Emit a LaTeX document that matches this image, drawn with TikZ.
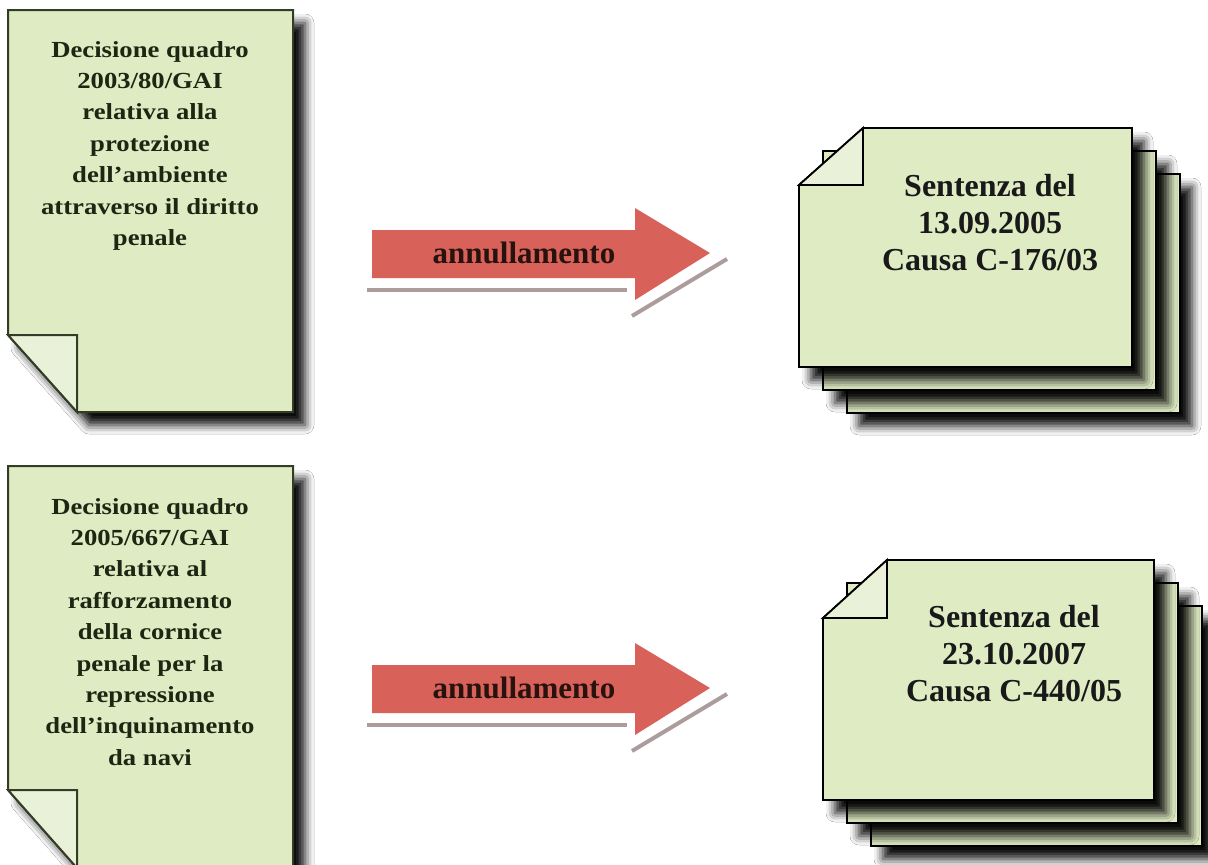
\documentclass[tikz,border=0pt]{standalone}
\usepackage{fontspec}
\setmainfont{Liberation Serif}
\newfontfamily\widefont[FakeStretch=1.16]{Liberation Serif}
\usetikzlibrary{shadows,shadows.blur}

\definecolor{pagegreen}{RGB}{222,235,195}
\definecolor{flapgreen}{RGB}{233,242,216}
\definecolor{oliveline}{RGB}{50,60,38}
\definecolor{oliveink}{RGB}{28,38,18}
\definecolor{arrowred}{RGB}{216,98,90}
\definecolor{arrowink}{RGB}{40,18,14}
\definecolor{shadowgrey}{RGB}{172,156,156}

\tikzset{
  pageshadow/.style={blur shadow={shadow xshift=12pt, shadow yshift=-13pt,
      shadow blur radius=9pt, shadow opacity=95}},
  leftdoc/.style={pageshadow, fill=pagegreen, draw=oliveline, line width=2pt, line join=miter},
  rightdoc/.style={pageshadow, fill=pagegreen, draw=black, line width=1.8pt, line join=miter},
  leftflap/.style={fill=flapgreen, draw=oliveline, line width=2pt, line join=miter},
  rightflap/.style={fill=flapgreen, draw=black, line width=1.8pt, line join=miter},
  lefttext/.style={font=\widefont\bfseries\fontsize{23}{31.4}\selectfont,
      text=oliveink, align=center, inner sep=0pt, anchor=north},
  righttext/.style={font=\bfseries\fontsize{32}{37}\selectfont,
      text=black!90, align=center, inner sep=0pt, anchor=north},
  arrowtext/.style={font=\bfseries\fontsize{31}{31}\selectfont,
      text=arrowink, inner sep=0pt, anchor=base},
  arrowshadow/.style={draw=shadowgrey, line width=4pt},
}

\begin{document}
\begin{tikzpicture}[x=1pt, y=-1pt]
  \useasboundingbox (0,0) rectangle (1208,865);
  \fill[white] (0,0) rectangle (1208,865);

  % left documents
  \path[leftdoc] (8,10) -- (293,10) -- (293,412) -- (77,412) -- (8,335) -- cycle;
  \path[leftflap] (8,335) -- (77,335) -- (77,412) -- cycle;
  \node[lefttext] (dec1) at (150,41) {Decisione quadro\\2003/80/GAI\\relativa alla\\protezione\\dell’ambiente\\attraverso il diritto\\penale};

  \path[leftdoc] (8,466) -- (293,466) -- (293,868) -- (77,868) -- (8,790) -- cycle;
  \path[leftflap] (8,790) -- (77,790) -- (77,868) -- cycle;
  \node[lefttext] (dec2) at (150,498) {Decisione quadro\\2005/667/GAI\\relativa al\\rafforzamento\\della cornice\\penale per la\\repressione\\dell’inquinamento\\da navi};

  % arrows
  \foreach \dy in {0,435} {
    \draw[arrowshadow] (367,290+\dy) -- (627,290+\dy);
    \draw[arrowshadow] (632,316+\dy) -- (727,259+\dy);
    \fill[arrowred] (372,230+\dy) -- (635,230+\dy) -- (635,208+\dy) -- (710,253+\dy)
      -- (635,300+\dy) -- (635,278+\dy) -- (372,278+\dy) -- cycle;
    \node[arrowtext] (ann\dy) at (524,263+\dy) {annullamento};
  }

  % right stacks
  \foreach \k in {2,1} {
    \path[rightdoc] (799+24*\k,128+23*\k) rectangle (1132+24*\k,367+23*\k);
  }
  \path[rightdoc] (863,128) -- (1132,128) -- (1132,367) -- (799,367) -- (799,185) -- cycle;
  \path[rightflap] (799,185) -- (863,128) -- (863,185) -- cycle;
  \node[righttext] (sent1) at (990,174) {Sentenza del\\13.09.2005\\Causa C-176/03};

  \foreach \k in {2,1} {
    \path[rightdoc] (823+24*\k,560+23*\k) rectangle (1154+24*\k,800+23*\k);
  }
  \path[rightdoc] (887,560) -- (1154,560) -- (1154,800) -- (823,800) -- (823,618) -- cycle;
  \path[rightflap] (823,618) -- (887,560) -- (887,618) -- cycle;
  \node[righttext] (sent2) at (1014,605) {Sentenza del\\23.10.2007\\Causa C-440/05};
\end{tikzpicture}
\end{document}
